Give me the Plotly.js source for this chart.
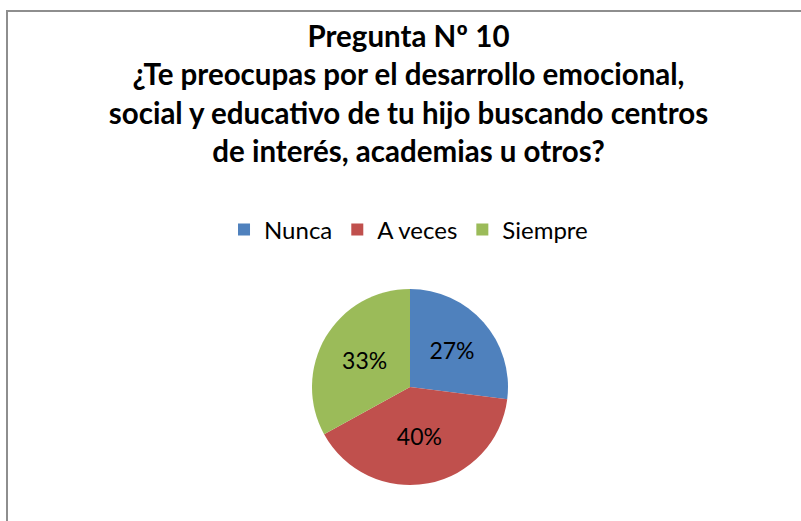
<!DOCTYPE html>
<html>
<head>
<meta charset="utf-8">
<script src="https://cdn.plot.ly/plotly-3.0.1.min.js"></script>
<style>
  html, body { margin: 0; padding: 0; background: #ffffff; }
  #wrap { position: relative; width: 801px; height: 521px; }
  #chart { position: absolute; left: 0; top: 0; width: 801px; height: 521px; }
  #frame { position: absolute; left: 6px; top: 10px; right: 0; bottom: 0;
           border-top: 2px solid #8e8e8e; border-left: 2px solid #8e8e8e; pointer-events: none; }
</style>
</head>
<body>
<div id="wrap">
  <div id="chart"></div>
  <div id="frame"></div>
</div>
<script>
const categories = ["Nunca", "A veces", "Siempre"];
const values = [27, 40, 33];
const sliceColors = ["#4F81BD", "#C0504D", "#9BBB59"];
const titleLines = [
  "Pregunta Nº 10",
  "¿Te preocupas por el desarrollo emocional,",
  "social y educativo de tu hijo buscando centros",
  "de interés, academias u otros?"
];

const W = 801, H = 521;
const trace = {
  type: "pie",
  labels: categories,
  values: values,
  sort: false,
  direction: "clockwise",
  rotation: 0,
  marker: { colors: sliceColors, line: { color: "#ffffff", width: 0 } },
  textinfo: "percent",
  texttemplate: "%{percent:.0%}",
  textposition: "inside",
  insidetextorientation: "horizontal",
  textfont: { family: "Lato, sans-serif", size: 23, color: "#000000" },
  domain: { x: [312 / W, 508 / W], y: [1 - 485 / H, 1 - 289 / H] },
  hoverinfo: "label+percent"
};

const layout = {
  width: W, height: H,
  margin: { l: 0, r: 0, t: 0, b: 0 },
  paper_bgcolor: "#ffffff",
  plot_bgcolor: "#ffffff",
  title: {
    text: titleLines.map(s => "<b>" + s + "</b>").join("<br>"),
    x: 0.51, xanchor: "center",
    y: 1 - 47 / H, yanchor: "top", yref: "container",
    font: { family: "Lato, sans-serif", size: 29.5, color: "#000000" }
  },
  showlegend: true,
  legend: {
    orientation: "h",
    x: 0.51, xanchor: "center",
    y: 1 - 230 / H, yanchor: "middle",
    font: { family: "Lato, sans-serif", size: 24, color: "#000000" },
    itemclick: false
  }
};

Plotly.newPlot("chart", [trace], layout, { displayModeBar: false, staticPlot: true });
</script>
</body>
</html>
